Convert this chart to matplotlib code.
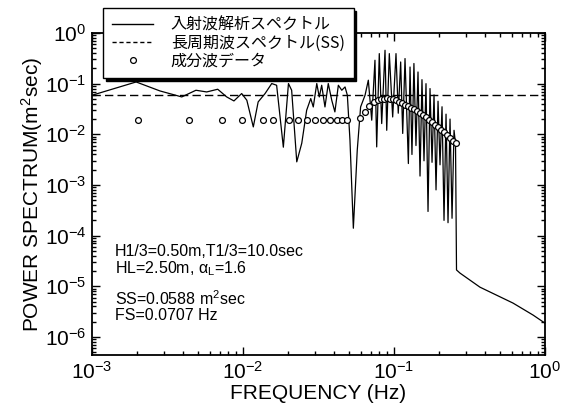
import matplotlib
matplotlib.use("Agg")
import matplotlib.pyplot as plt
from matplotlib.lines import Line2D
from matplotlib.ticker import LogLocator, NullFormatter

plt.rcParams['font.family'] = ['Liberation Sans', 'DejaVu Sans']
plt.rcParams['mathtext.fontset'] = 'custom'
plt.rcParams['mathtext.rm'] = 'Liberation Sans'
plt.rcParams['mathtext.it'] = 'Liberation Sans:italic'

# ---- data ----
line_freq = [0.00100, 0.00196, 0.00282, 0.00393, 0.00488, 0.00575, 0.00680, 0.00780,
             0.00871, 0.00980, 0.0106, 0.0117, 0.0126, 0.0140, 0.0155, 0.0167,
             0.0185, 0.0200, 0.0210, 0.0227, 0.0245, 0.0264, 0.0281, 0.0292,
             0.0308, 0.0320, 0.0332, 0.0349, 0.0367, 0.0387, 0.0406, 0.0428,
             0.0451, 0.0474, 0.0491, 0.0511, 0.0538, 0.0571, 0.0601, 0.0643,
             0.0676, 0.0712, 0.0748, 0.0768, 0.0799, 0.0829, 0.0872, 0.0895,
             0.0931, 0.0980, 0.1031, 0.1067, 0.1107, 0.1142, 0.1183, 0.1245,
             0.1277, 0.1315, 0.1355, 0.1398, 0.1442, 0.1487, 0.1532, 0.1580,
             0.1629, 0.1680, 0.1732, 0.1786, 0.1841, 0.1898, 0.1957, 0.2017,
             0.2080, 0.2144, 0.2211, 0.2279, 0.2350, 0.2423, 0.2498, 0.2555,
             0.2594, 0.2736, 0.371, 0.614, 0.834, 1.0]
line_power = [0.059, 0.108, 0.0718, 0.0547, 0.0741, 0.0686, 0.0776, 0.0547,
              0.0456, 0.0638, 0.0471, 0.0140, 0.0436, 0.0638, 0.1005, 0.093,
              0.00557, 0.1005, 0.0741, 0.00286, 0.00667, 0.0299, 0.0508, 0.0347,
              0.1005, 0.0547, 0.093, 0.0347, 0.1005, 0.0471, 0.0277, 0.093,
              0.0741, 0.0861, 0.059, 0.00765, 0.00014, 0.00486, 0.0347, 0.059,
              0.117, 0.019, 0.29, 0.00564, 0.392, 0.0163, 0.456, 0.0120,
              0.392, 0.0220, 0.392, 0.0261, 0.268, 0.0104, 0.313, 0.00265,
              0.213, 0.004, 0.25, 0.006, 0.17, 0.0015, 0.12, 0.003,
              0.10, 0.0003, 0.08, 0.0028, 0.06, 0.0008, 0.045, 0.0025,
              0.035, 0.0002, 0.025, 0.00018, 0.02, 0.00022, 0.012, 0.0065,
              2.1e-5, 1.82e-5, 9.6e-6, 4.66e-6, 2.7e-6, 1.87e-6]

ss_level = 0.0588
ss_freq = [1e-3, 1.0]

comp_freq = [0.00201, 0.00438, 0.00723, 0.00984, 0.0135, 0.0159, 0.0202, 0.0231,
             0.0265, 0.0300, 0.0339, 0.0377, 0.0420, 0.0453, 0.0489,
             0.0596, 0.0643, 0.0683, 0.0738, 0.0784, 0.0821, 0.0859, 0.0900,
             0.0942, 0.0985, 0.1031, 0.1079, 0.1130, 0.1183, 0.1238, 0.1296,
             0.1355, 0.1419, 0.1487, 0.1556, 0.1629, 0.1706, 0.1786, 0.1870,
             0.1957, 0.2047, 0.2144, 0.2244, 0.2350, 0.2460, 0.2575]
comp_power = [0.0195] * 15 + [
              0.0208, 0.0273, 0.0358, 0.0430, 0.0471, 0.0492, 0.0504, 0.0515,
              0.0504, 0.0492, 0.0471, 0.0440, 0.0411, 0.0384, 0.0358, 0.0335,
              0.0313, 0.0286, 0.0261, 0.0238, 0.0217, 0.0194, 0.0173, 0.0155,
              0.0138, 0.0123, 0.0110, 0.0098, 0.0086, 0.0075, 0.00667]

legend_labels = ['入射波解析スペクトル', '長周期波スペクトル(SS)', '成分波データ']
info_lines = ['H1/3=0.50m,T1/3=10.0sec', 'HL=2.50m, α$_{\\rm L}$=1.6',
              'SS=0.0588 m$^{2}$sec', 'FS=0.0707 Hz']

W, H = 571, 409
fig = plt.figure(figsize=(W / 100, H / 100), dpi=100)
ax = fig.add_axes([92 / W, 1 - 355 / H, (545 - 92) / W, (355 - 33) / H])

ax.plot(line_freq, line_power, color='black', lw=0.9, zorder=3)
ax.plot(ss_freq, [ss_level, ss_level], color='black', lw=1.0, ls=(0, (6, 3)), zorder=2)
ax.plot(comp_freq, comp_power, ls='none', marker='o', ms=4.2, mfc='white',
        mec='black', mew=0.9, zorder=4)

ax.set_xscale('log')
ax.set_yscale('log')
ax.set_xlim(1e-3, 1.0)
ax.set_ylim(4.4e-7, 1.0)

ax.xaxis.set_major_locator(LogLocator(base=10, numticks=10))
ax.yaxis.set_major_locator(LogLocator(base=10, numticks=10))
ax.xaxis.set_minor_locator(LogLocator(base=10, subs=range(2, 10), numticks=20))
ax.yaxis.set_minor_locator(LogLocator(base=10, subs=range(2, 10), numticks=20))
ax.xaxis.set_minor_formatter(NullFormatter())
ax.yaxis.set_minor_formatter(NullFormatter())
ax.tick_params(which='both', direction='in', top=True, right=True, width=1.0)
ax.tick_params(which='major', length=6, labelsize=15, pad=4)
ax.tick_params(which='minor', length=3)
ax.xaxis.get_offset_text().set_visible(False)
ax.yaxis.get_offset_text().set_visible(False)
for s in ax.spines.values():
    s.set_linewidth(1.3)

ax.set_xlabel('FREQUENCY (Hz)', fontsize=15, labelpad=1)
ax.set_ylabel('POWER SPECTRUM(m$^{2}$sec)', fontsize=15, labelpad=0)

handles = [Line2D([], [], color='black', lw=1.0),
           Line2D([], [], color='black', lw=1.0, ls=(0, (3, 2))),
           Line2D([], [], ls='none', marker='o', ms=4.2, mfc='white', mec='black', mew=0.9)]
leg = fig.legend(handles, legend_labels, loc='upper left',
                 bbox_to_anchor=(103 / W, 1 - 8 / H), frameon=True, fancybox=False,
                 shadow={'facecolor': 'black', 'edgecolor': 'black', 'alpha': 1.0},
                 prop={'family': ['Noto Sans CJK JP', 'Liberation Sans'], 'size': 11.5},
                 handlelength=2.6, handletextpad=1.1, labelspacing=0.05,
                 borderpad=0.55, borderaxespad=0)
leg.get_frame().set_edgecolor('black')
leg.get_frame().set_linewidth(1.0)

ys = [251.5, 268.5, 298.5, 315.5]
for t, y in zip(info_lines, ys):
    fig.text(115 / W, 1 - y / H, t, fontsize=11.5, va='center', ha='left')

fig.savefig('out.png', dpi=100)
